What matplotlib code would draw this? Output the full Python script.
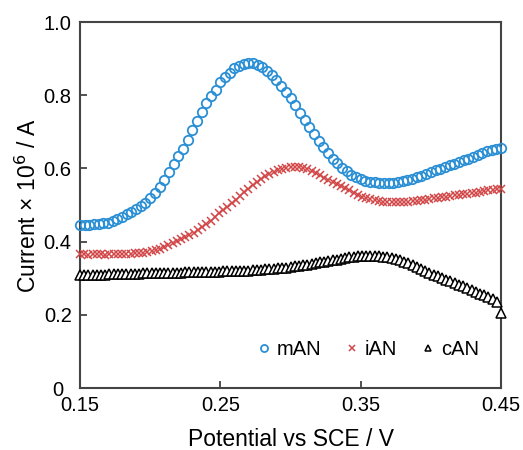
import numpy as np
import matplotlib
matplotlib.use("Agg")
import matplotlib.pyplot as plt
import matplotlib.transforms as mtransforms

plt.rcParams['font.family'] = ['Liberation Sans', 'DejaVu Sans']

# Potential grids (V)
x_mAN = np.linspace(0.15, 0.45, 91)
x_iAN = np.linspace(0.15, 0.45, 101)
x_cAN = np.linspace(0.15, 0.45, 101)

mAN = [0.444, 0.445, 0.446, 0.447, 0.448, 0.450, 0.452, 0.456, 0.461, 0.468,
       0.475, 0.481, 0.488, 0.496, 0.505, 0.518, 0.533, 0.549, 0.568, 0.589,
       0.611, 0.633, 0.653, 0.677, 0.705, 0.730, 0.755, 0.780, 0.797, 0.815,
       0.835, 0.849, 0.862, 0.875, 0.881, 0.886, 0.889, 0.888, 0.883, 0.876,
       0.867, 0.856, 0.842, 0.826, 0.809, 0.791, 0.772, 0.752, 0.731, 0.712,
       0.694, 0.675, 0.658, 0.642, 0.627, 0.614, 0.602, 0.592, 0.583, 0.576,
       0.570, 0.566, 0.563, 0.562, 0.561, 0.561, 0.560, 0.560, 0.562, 0.565,
       0.568, 0.572, 0.576, 0.580, 0.585, 0.590, 0.595, 0.599, 0.604, 0.608,
       0.613, 0.617, 0.622, 0.627, 0.632, 0.637, 0.642, 0.647, 0.650, 0.653,
       0.655]

iAN = [0.365, 0.365, 0.364, 0.365, 0.365, 0.365, 0.364, 0.365, 0.365, 0.366,
       0.366, 0.366, 0.367, 0.368, 0.369, 0.370, 0.372, 0.374, 0.377, 0.381,
       0.385, 0.390, 0.395, 0.401, 0.406, 0.412, 0.418, 0.424, 0.431, 0.439,
       0.447, 0.457, 0.467, 0.477, 0.486, 0.495, 0.505, 0.515, 0.525, 0.535,
       0.545, 0.555, 0.563, 0.571, 0.578, 0.585, 0.590, 0.595, 0.599, 0.602,
       0.604, 0.605, 0.604, 0.602, 0.599, 0.594, 0.588, 0.581, 0.575, 0.569,
       0.562, 0.557, 0.551, 0.546, 0.540, 0.534, 0.528, 0.523, 0.519, 0.516,
       0.513, 0.511, 0.509, 0.508, 0.508, 0.507, 0.508, 0.508, 0.509, 0.510,
       0.511, 0.513, 0.515, 0.516, 0.518, 0.519, 0.521, 0.522, 0.524, 0.526,
       0.527, 0.529, 0.531, 0.532, 0.534, 0.536, 0.538, 0.540, 0.541, 0.543,
       0.545]

cAN = [0.309, 0.309, 0.309, 0.310, 0.310, 0.310, 0.310, 0.311, 0.311, 0.311,
       0.311, 0.312, 0.312, 0.312, 0.312, 0.313, 0.313, 0.313, 0.313, 0.314,
       0.314, 0.314, 0.315, 0.315, 0.315, 0.316, 0.316, 0.316, 0.317, 0.317,
       0.317, 0.318, 0.318, 0.318, 0.319, 0.319, 0.319, 0.320, 0.320, 0.321,
       0.321, 0.322, 0.322, 0.323, 0.324, 0.325, 0.326, 0.327, 0.328, 0.329,
       0.330, 0.332, 0.333, 0.335, 0.337, 0.339, 0.341, 0.343, 0.345, 0.347,
       0.349, 0.351, 0.353, 0.355, 0.357, 0.358, 0.360, 0.361, 0.362, 0.362,
       0.362, 0.361, 0.359, 0.357, 0.355, 0.352, 0.349, 0.345, 0.341, 0.336,
       0.331, 0.326, 0.320, 0.315, 0.310, 0.305, 0.300, 0.296, 0.291, 0.287,
       0.282, 0.278, 0.273, 0.268, 0.263, 0.258, 0.253, 0.248, 0.243, 0.235,
       0.206]

x_ticks = [0.15, 0.25, 0.35, 0.45]
x_tick_labels = ["0.15", "0.25", "0.35", "0.45"]
y_ticks = [0, 0.2, 0.4, 0.6, 0.8, 1.0]
y_tick_labels = ["0", "0.2", "0.4", "0.6", "0.8", "1.0"]

fig = plt.figure(figsize=(5.23, 4.5), dpi=100)
ax = fig.add_axes([80/523, 62/450, 421/523, 366/450])

blue = '#2a8fd4'
red = '#d24747'

ax.plot(x_mAN, mAN, linestyle='none', marker='o', markersize=6.8,
        markerfacecolor='none', markeredgecolor=blue, markeredgewidth=1.3,
        clip_on=False, label='mAN', zorder=3)
ax.plot(x_iAN, iAN, linestyle='none', marker='x', markersize=5.5,
        color=red, markeredgewidth=1.1, clip_on=False, label='iAN', zorder=3)
ax.plot(x_cAN, cAN, linestyle='none', marker='^', markersize=6.5,
        markerfacecolor='white', markeredgecolor='black', markeredgewidth=1.1,
        clip_on=False, label='cAN', zorder=3)

ax.set_xlim(0.15, 0.45)
ax.set_ylim(0, 1.0)
ax.set_xticks(x_ticks)
ax.set_xticklabels(x_tick_labels)
ax.set_yticks(y_ticks)
ax.set_yticklabels(y_tick_labels)
ax.tick_params(direction='in', length=5, width=1.2, labelsize=14.5,
               color='#333333')
ax.tick_params(axis='x', pad=6)
ax.tick_params(axis='y', pad=6)
for s in ax.spines.values():
    s.set_color('#444444')
    s.set_linewidth(1.5)

# shift the "0" y tick label slightly left as in the reference
zero_lbl = ax.get_yticklabels()[0]
zero_lbl.set_transform(zero_lbl.get_transform() +
                       mtransforms.ScaledTranslation(-8/100, 0, fig.dpi_scale_trans))

ax.set_xlabel('Potential vs SCE / V', fontsize=16.5, labelpad=9)
ax.set_ylabel('Current × 10$^6$ / A', fontsize=16.5, labelpad=2)

leg = ax.legend(loc='lower right', ncol=3, frameon=False, fontsize=14.5,
                handletextpad=0.25, columnspacing=1.1, markerscale=0.75,
                handlelength=0.8, bbox_to_anchor=(0.99, 0.03))

fig.savefig('out.png', dpi=100)
